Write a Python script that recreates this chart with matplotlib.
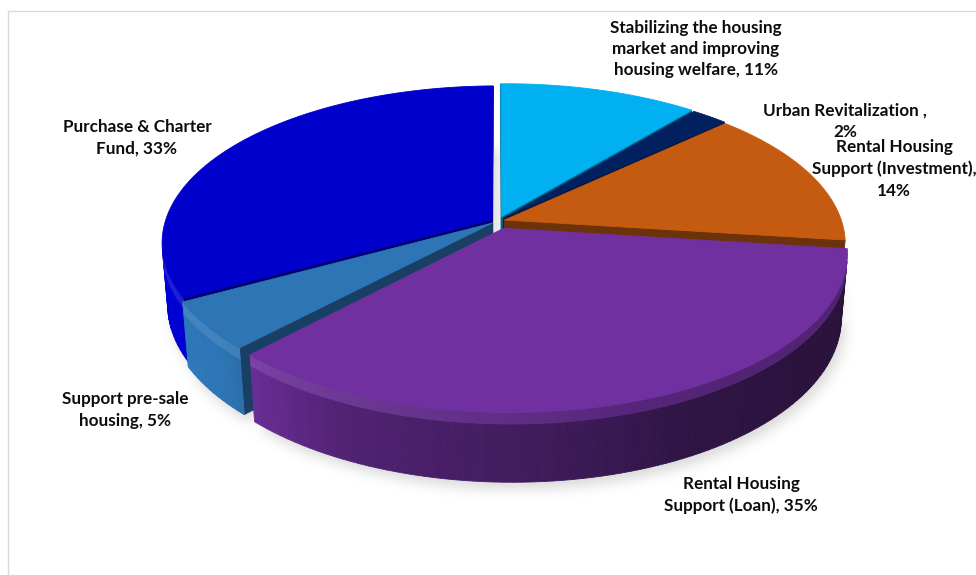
import numpy as np
import matplotlib
matplotlib.use("Agg")
import matplotlib.pyplot as plt
from matplotlib.patches import Polygon, Rectangle
from matplotlib.path import Path
from matplotlib.colors import to_rgb

# ---------------- data ----------------
categories = ["Stabilizing the housing market and improving housing welfare",
              "Urban Revitalization ",
              "Rental Housing Support (Investment)",
              "Rental Housing Support (Loan)",
              "Support pre-sale housing",
              "Purchase & Charter Fund"]
values = [11, 2, 14, 35, 5, 33]
label_texts = [
    "Stabilizing the housing\nmarket and improving\nhousing welfare, {}%",
    "Urban Revitalization ,\n{}%",
    "Rental Housing\nSupport (Investment),\n{}%",
    "Rental Housing\nSupport (Loan), {}%",
    "Support pre-sale\nhousing, {}%",
    "Purchase & Charter\nFund, {}%",
]
colors = ["#00B0F0", "#002060", "#C55A11", "#7030A0", "#2E75B6", "#0000CC"]
explode = [0.03, 0.025, 0.02, 0.05, 0.02, 0.02]
label_pos = [(696, 49), (845, 121), (894, 169), (741, 495), (125, 410), (137, 138)]

# ---------------- figure ----------------
W, H = 976, 575
fig = plt.figure(figsize=(W / 100, H / 100), dpi=100)
ax = fig.add_axes([0, 0, 1, 1])
ax.set_xlim(0, W)
ax.set_ylim(H, 0)
ax.axis('off')

# chart frame
ax.add_patch(Rectangle((7.5, 10.5), 1200, 1000, fill=False, ec="#D9D9D9", lw=1.0))

# ---------------- perspective camera ----------------
cx, cy = 498, 221
S = 332.0
k = 0.15
q = 0.015
phi = np.arcsin(0.464)
D = np.cos(phi) / k
f = S * D
h = 0.215
cam = np.array([0.0, -D * np.cos(phi), D * np.sin(phi)])

# wall lighting (brightness factor vs. sin of the wall angle; light from the left)
light_s = [-1.0, -0.75, -0.42, 0.09, 0.5, 1.0]
light_f = [1.05, 1.0, 0.72, 0.57, 0.42, 0.36]


def proj(X, Y, Z):
    X = np.asarray(X, float); Y = np.asarray(Y, float); Z = np.asarray(Z, float) + 0 * X
    depth = D + Y * np.cos(phi) - Z * np.sin(phi) - q * D * X
    up = Y * np.sin(phi) + Z * np.cos(phi)
    return cx + f * X / depth, cy - f * up / depth, depth


def shade(col, fac):
    c = np.array(to_rgb(col)) * fac
    return tuple(np.clip(c, 0, 1))


def mix(c1, c2, t):
    return tuple(np.clip((1 - t) * np.array(c1) + t * np.array(c2), 0, 1))


total = float(sum(values))
start = 0.0
faces = []
tops = []
bottoms = []
hl = 0.035  # bevel band height
for v, col, ex in zip(values, colors, explode):
    a0 = start / total * 2 * np.pi
    a1 = (start + v) / total * 2 * np.pi
    start += v
    mid = (a0 + a1) / 2
    ox, oy = ex * np.sin(mid), ex * np.cos(mid)
    n = max(4, int(np.degrees(a1 - a0) / 1.5) + 2)
    th = np.linspace(a0, a1, n)
    X = ox + np.sin(th)
    Y = oy + np.cos(th)
    px, py, _ = proj(np.r_[ox, X], np.r_[oy, Y], 0.0)
    tops.append((np.c_[px, py], col))
    bx, by, _ = proj(np.r_[ox, X], np.r_[oy, Y], -h)
    bottoms.append(np.c_[bx, by])
    # outer wall
    for i in range(n - 1):
        tm = (th[i] + th[i + 1]) / 2
        nX, nY = np.sin(tm), np.cos(tm)
        P = np.array([ox + nX, oy + nY])
        if nX * (cam[0] - P[0]) + nY * (cam[1] - P[1]) <= 0:
            continue
        fac = np.interp(np.sin(tm), light_s, light_f)
        wc = shade(col, fac)
        light = max(0.0, 0.35 - np.sin(tm)) / 1.35
        topc = mix(to_rgb(col), (1, 1, 1), 0.22 * light)
        bandc = mix(wc, topc, 0.55)
        xs = [X[i], X[i + 1], X[i + 1], X[i]]
        ys = [Y[i], Y[i + 1], Y[i + 1], Y[i]]
        dm = proj(xs, ys, -h / 2)[2].mean()
        qx, qy, qd = proj(xs, ys, [0, 0, -hl, -hl])
        faces.append((dm, np.c_[qx, qy], bandc, 1))
        qx, qy, qd = proj(xs, ys, [-hl, -hl, -h, -h])
        faces.append((dm, np.c_[qx, qy], wc, 0))
    # radial cut faces
    for a, sgn in ((a0, -1), (a1, 1)):
        nrm = np.array([np.cos(a), -np.sin(a)]) * sgn
        rx, ry = ox + np.sin(a), oy + np.cos(a)
        P = np.array([(ox + rx) / 2, (oy + ry) / 2])
        if nrm[0] * (cam[0] - P[0]) + nrm[1] * (cam[1] - P[1]) <= 0:
            continue
        qx, qy, qd = proj([ox, rx, rx, ox], [oy, ry, ry, oy], [0, 0, -h, -h])
        faces.append((qd.mean(), np.c_[qx, qy], shade(col, 0.55), 0))

# soft shadow
gx, gy = np.meshgrid(np.arange(W) + 0.5, np.arange(H) + 0.5)
pts = np.c_[gx.ravel(), gy.ravel()]
mask = np.zeros(W * H)
for b in bottoms:
    mask = np.maximum(mask, Path(b + np.array([4, 7])).contains_points(pts))
mask = mask.reshape(H, W)
ker = np.exp(-0.5 * (np.arange(-20, 21) / 6.0) ** 2)
ker /= ker.sum()
blur = np.apply_along_axis(lambda r: np.convolve(r, ker, mode='same'), 1, mask)
blur = np.apply_along_axis(lambda c: np.convolve(c, ker, mode='same'), 0, blur)
rgba = np.zeros((H, W, 4))
rgba[..., :3] = 0.55
rgba[..., 3] = blur * 0.32
ax.imshow(rgba, extent=(0, W, H, 0), zorder=0.5, interpolation='bilinear')

faces.sort(key=lambda t: (-t[0], t[3]))
for d, poly, c, _ in faces:
    ax.add_patch(Polygon(poly, closed=True, fc=c, ec=c, lw=0.6, zorder=2))
for poly, c in tops:
    ax.add_patch(Polygon(poly, closed=True, fc=c, ec=c, lw=0.6, zorder=3))

# labels
for txt, v, (lx, ly) in zip(label_texts, values, label_pos):
    ax.text(lx, ly, txt.format(v), ha='center', va='center', fontsize=12.3,
            fontweight='bold', family=['Lato', 'DejaVu Sans'], color='#0D0D0D',
            linespacing=1.42, zorder=5)

fig.savefig("out.png", dpi=100)
